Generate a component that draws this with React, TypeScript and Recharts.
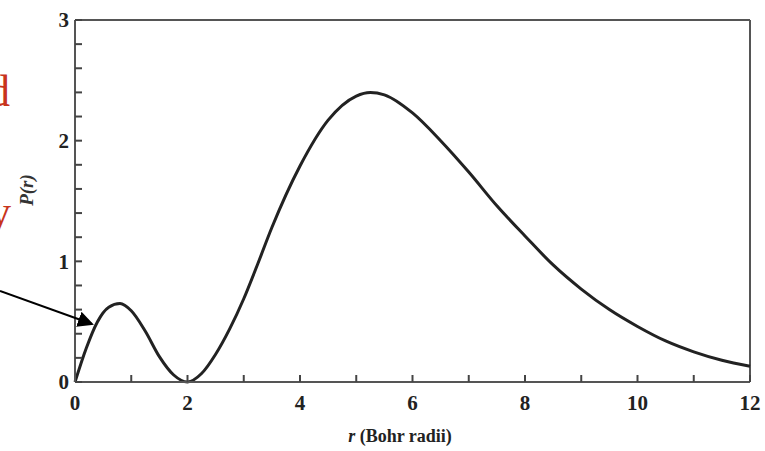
import { LineChart, Line, XAxis, YAxis, ReferenceLine } from "recharts"

// radius in Bohr radii
const radius = [0, 0.2, 0.4, 0.6, 0.8, 1.0, 1.25, 1.5, 1.75, 2.0, 2.25, 2.5, 2.75, 3.0, 3.25, 3.5, 4.0, 4.5, 5.0, 5.25, 5.5, 6.0, 6.5, 7.0, 7.5, 8.0, 8.5, 9.0, 9.5, 10.0, 10.5, 11.0, 11.5, 12.0]
// radial probability P(r)
const prob = [0, 0.28, 0.5, 0.62, 0.65, 0.59, 0.42, 0.21, 0.06, 0, 0.07, 0.23, 0.44, 0.69, 0.98, 1.28, 1.79, 2.17, 2.37, 2.4, 2.38, 2.23, 2.0, 1.74, 1.46, 1.21, 0.97, 0.77, 0.6, 0.46, 0.34, 0.25, 0.18, 0.13]

const xTicks = [0, 1, 2, 3, 4, 5, 6, 7, 8, 9, 10, 11, 12]
const yTicks = [0, 0.2, 0.4, 0.6, 0.8, 1, 1.2, 1.4, 1.6, 1.8, 2, 2.2, 2.4, 2.6, 2.8, 3]

const data = radius.map((r, i) => ({ r, p: prob[i] }))

const font = "'Liberation Serif', 'DejaVu Serif', serif"
const axisColor = "#555"

export default function App() {
  return (
    <div style={{ position: "absolute", left: 0, top: 0, width: 765, height: 451, background: "#fff", overflow: "hidden" }}>
      <LineChart width={765} height={451} data={data} margin={{ top: 20, right: 15, bottom: 0, left: 0 }}>
        <XAxis
          type="number"
          dataKey="r"
          domain={[0, 12]}
          ticks={xTicks}
          height={69}
          interval={0}
          tickSize={-7}
          tickMargin={20}
          tickFormatter={(v: number) => (v % 2 === 0 ? String(v) : "")}
          stroke={axisColor}
          strokeWidth={2}
          tickLine={{ stroke: "#444", strokeWidth: 2 }}
          tick={{ fill: "#222", fontSize: 21, fontFamily: font, fontWeight: "bold" }}
        />
        <YAxis
          type="number"
          domain={[0, 3]}
          ticks={yTicks}
          width={75}
          interval={0}
          tickSize={-7}
          tickMargin={13}
          tickFormatter={(v: number) => (Number.isInteger(v) ? String(v) : "")}
          stroke={axisColor}
          strokeWidth={2}
          tickLine={{ stroke: "#444", strokeWidth: 2 }}
          tick={{ fill: "#222", fontSize: 21, fontFamily: font, fontWeight: "bold" }}
        />
        <ReferenceLine y={3} stroke={axisColor} strokeWidth={2} />
        <ReferenceLine x={12} stroke={axisColor} strokeWidth={2} />
        <Line
          type="monotone"
          dataKey="p"
          stroke="#222"
          strokeWidth={3}
          dot={false}
          isAnimationActive={false}
        />
      </LineChart>
      <svg width={765} height={451} style={{ position: "absolute", left: 0, top: 0, pointerEvents: "none" }}>
        <text x={400} y={442} textAnchor="middle" fontFamily={font} fontSize={18} fontWeight="bold" fill="#222">
          <tspan fontStyle="italic">r</tspan> (Bohr radii)
        </text>
        <text
          x={0}
          y={0}
          transform="translate(33,190) rotate(-90)"
          textAnchor="middle"
          fontFamily={font}
          fontSize={19}
          fontStyle="italic"
          fontWeight="bold"
          fill="#333"
        >
          P(r)
        </text>
        <text x={10} y={106} textAnchor="end" fontFamily={font} fontSize={44} fill="#c8341c">d</text>
        <text x={11} y={226} textAnchor="end" fontFamily={font} fontSize={44} fill="#c8341c">y</text>
        <defs>
          <marker id="head" markerWidth="8" markerHeight="8" refX="7" refY="4" orient="auto" markerUnits="strokeWidth">
            <path d="M0,0 L8,4 L0,8 Z" fill="#000" />
          </marker>
        </defs>
        <line x1={0} y1={291} x2={92} y2={324} stroke="#000" strokeWidth={2} markerEnd="url(#head)" />
      </svg>
    </div>
  )
}
